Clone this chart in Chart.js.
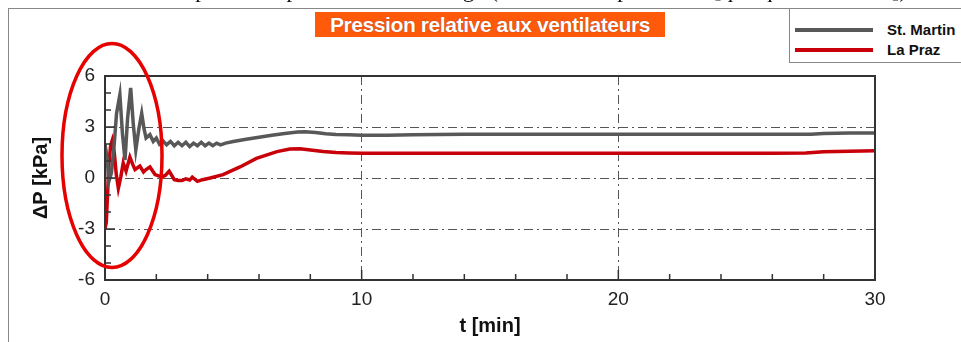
<!DOCTYPE html>
<html><head><meta charset="utf-8">
<script src="https://cdn.jsdelivr.net/npm/chart.js@4.4.1/dist/chart.umd.min.js"></script>
<style>
html,body{margin:0;padding:0;background:#fff;}
#wrap{position:relative;width:961px;height:342px;overflow:hidden;background:#fff;}
#c{position:absolute;left:0;top:0;}
#toptext{position:absolute;right:48px;top:-22px;font:23px 'Liberation Serif','Times New Roman',serif;color:#111;white-space:nowrap;line-height:23px;}
.fr{position:absolute;background:#888;}
#legbox{position:absolute;left:789px;top:8px;width:200px;height:55px;border:1px solid #888;background:#fff;box-sizing:border-box;}
.lsw{position:absolute;left:795px;width:78px;height:4px;}
.ltx{position:absolute;left:887px;font:bold 15px 'Liberation Sans',Arial,sans-serif;color:#111;white-space:nowrap;line-height:16px;}
#title{position:absolute;left:315px;top:12px;width:350px;height:25px;background:#FF5A0A;color:#fff;font:bold 21px 'Liberation Sans',Arial,sans-serif;letter-spacing:-0.4px;text-align:center;line-height:25px;white-space:nowrap;text-shadow:0 0 1px #733;}
svg{position:absolute;left:0;top:0;pointer-events:none;}
</style>
</head><body>
<div id="wrap">
<canvas id="c" width="961" height="342"></canvas>
<div id="toptext">les pressions pendant le démarrage (au cours des premières [quelques secondes]).</div>
<div class="fr" style="left:8px;top:8px;width:1px;height:334px;"></div>
<div class="fr" style="left:8px;top:8px;width:953px;height:1px;"></div>
<div id="title">Pression relative aux ventilateurs</div>
<div id="legbox"></div>
<div id="legend"></div>
<svg width="961" height="342"><ellipse cx="112" cy="155.5" rx="50" ry="112" fill="none" stroke="#E60000" stroke-width="3.5"/></svg>
</div>
<script>
// ---- data ----
const seriesNames = ['St. Martin', 'La Praz'];
const tStMartin = [0,0.08,0.15,0.25,0.35,0.45,0.58,0.68,0.78,0.88,1.0,1.1,1.2,1.32,1.43,1.52,1.6,1.75,1.88,2.0,2.12,2.25,2.4,2.55,2.7,2.85,3.0,3.15,3.3,3.45,3.6,3.75,3.9,4.05,4.2,4.35,4.5,4.7,5.0,5.5,6.0,6.5,7.0,7.5,7.8,8.2,8.6,9.0,9.5,10,11,12,13,14,16,18,20,22,24,26,27.5,28,29,30];
const pStMartin = [2.0,1.2,-0.2,0.3,1.8,3.8,4.9,2.6,1.05,3.5,5.3,3.2,1.65,2.9,3.8,2.9,2.35,2.55,2.15,2.35,2.0,2.2,1.95,2.15,1.9,2.1,1.9,2.1,1.85,2.05,1.9,2.1,1.9,2.05,1.9,2.05,1.95,2.05,2.15,2.28,2.4,2.52,2.62,2.7,2.72,2.68,2.6,2.56,2.54,2.52,2.52,2.54,2.56,2.57,2.57,2.57,2.57,2.57,2.57,2.57,2.57,2.62,2.64,2.65];
const tLaPraz = [0,0.05,0.1,0.15,0.22,0.28,0.36,0.44,0.52,0.62,0.71,0.82,0.97,1.08,1.17,1.36,1.5,1.6,1.75,1.95,2.2,2.35,2.5,2.7,2.85,3.0,3.15,3.3,3.4,3.6,3.8,4.1,4.6,5.26,5.9,6.7,7.2,7.6,8.0,8.5,9.0,9.5,10,12,14,16,18,20,22,24,26,27.3,28,29,30];
const pLaPraz = [-3.0,-2.6,-1.0,0.8,1.9,2.2,1.5,0.2,-0.6,0.1,0.88,0.4,1.23,0.8,0.5,0.7,0.35,0.5,0.65,0.2,0.06,0.15,0.4,-0.1,-0.15,-0.15,-0.05,-0.12,0.05,-0.2,-0.1,0.0,0.2,0.65,1.15,1.55,1.7,1.72,1.65,1.56,1.5,1.47,1.45,1.45,1.45,1.45,1.45,1.45,1.45,1.45,1.45,1.47,1.55,1.58,1.6];
const seriesColors = ['#585858', '#C8000A'];
const yTickLabels = [-6,-3,0,3,6];
const xTickLabels = [0,10,20,30];
const yGridValues = [-3,0,3];
const xGridValues = [10,20];

const toPts = (t, p) => t.map((v, i) => ({x: v, y: p[i]}));

// html legend built from series
const leg = document.getElementById('legend');
seriesNames.forEach((n, i) => {
  const yc = 30 + i * 20;
  const sw = document.createElement('div');
  sw.className = 'lsw'; sw.style.top = (yc - 2) + 'px'; sw.style.background = seriesColors[i];
  const tx = document.createElement('div');
  tx.className = 'ltx'; tx.style.top = (yc - 8) + 'px'; tx.textContent = n;
  leg.appendChild(sw); leg.appendChild(tx);
});

const frameTicks = {
  id: 'frameTicks',
  afterDatasetsDraw(chart) {
    const {ctx, chartArea: a, scales} = chart;
    ctx.save();
    ctx.strokeStyle = '#333';
    ctx.lineWidth = 1.5;
    ctx.beginPath();
    scales.y.ticks.forEach(t => {
      const y = scales.y.getPixelForValue(t.value);
      const len = (t.value % 3 === 0) ? 10 : 6;
      ctx.moveTo(a.left, y); ctx.lineTo(a.left + len, y);
    });
    scales.x.ticks.forEach(t => {
      const x = scales.x.getPixelForValue(t.value);
      const len = (t.value % 10 === 0) ? 10 : 6;
      ctx.moveTo(x, a.bottom); ctx.lineTo(x, a.bottom - len);
    });
    ctx.stroke();
    ctx.lineWidth = 2;
    ctx.strokeRect(a.left, a.top, a.right - a.left, a.bottom - a.top);
    ctx.restore();
  }
};

const font = {family: "'Liberation Sans', Arial, sans-serif", size: 19};
new Chart(document.getElementById('c'), {
  type: 'line',
  data: {
    datasets: [
      {label: seriesNames[0], data: toPts(tStMartin, pStMartin), borderColor: seriesColors[0], borderWidth: 3.5, pointRadius: 0, tension: 0},
      {label: seriesNames[1], data: toPts(tLaPraz, pLaPraz), borderColor: seriesColors[1], borderWidth: 3.5, pointRadius: 0, tension: 0}
    ]
  },
  options: {
    responsive: false,
    animation: false,
    layout: {padding: {top: 76, right: 86, left: 0, bottom: 0}},
    plugins: {legend: {display: false}, tooltip: {enabled: false}},
    scales: {
      x: {
        type: 'linear', min: 0, max: 30,
        afterFit: s => { s.height = 62; },
        ticks: {stepSize: 2, autoSkip: false, maxRotation: 0, padding: 8, color: '#222', font,
          callback: v => xTickLabels.includes(v) ? String(v) : ''},
        grid: {drawTicks: false, lineWidth: 1,
          color: c => xGridValues.includes(c.tick && c.tick.value) ? '#555' : 'rgba(0,0,0,0)'},
        border: {display: true, color: '#333', width: 2, dash: [9, 4, 2, 4]},
        title: {display: true, text: 't [min]', color: '#111', font: {family: font.family, size: 20, weight: 'bold'}, padding: {top: 0, bottom: 4}}
      },
      y: {
        type: 'linear', min: -6, max: 6,
        afterFit: s => { s.width = 105; },
        ticks: {stepSize: 1, autoSkip: false, padding: 10, color: '#222', font,
          callback: v => yTickLabels.includes(v) ? String(v) : ''},
        grid: {drawTicks: false, lineWidth: 1,
          color: c => yGridValues.includes(c.tick && c.tick.value) ? '#555' : 'rgba(0,0,0,0)'},
        border: {display: true, color: '#333', width: 2, dash: [9, 4, 2, 4]},
        title: {display: true, text: 'ΔP [kPa]', color: '#111', font: {family: font.family, size: 20, weight: 'bold'}, padding: {top: 29, bottom: 0}}
      }
    }
  },
  plugins: [frameTicks]
});
</script>
</body></html>
